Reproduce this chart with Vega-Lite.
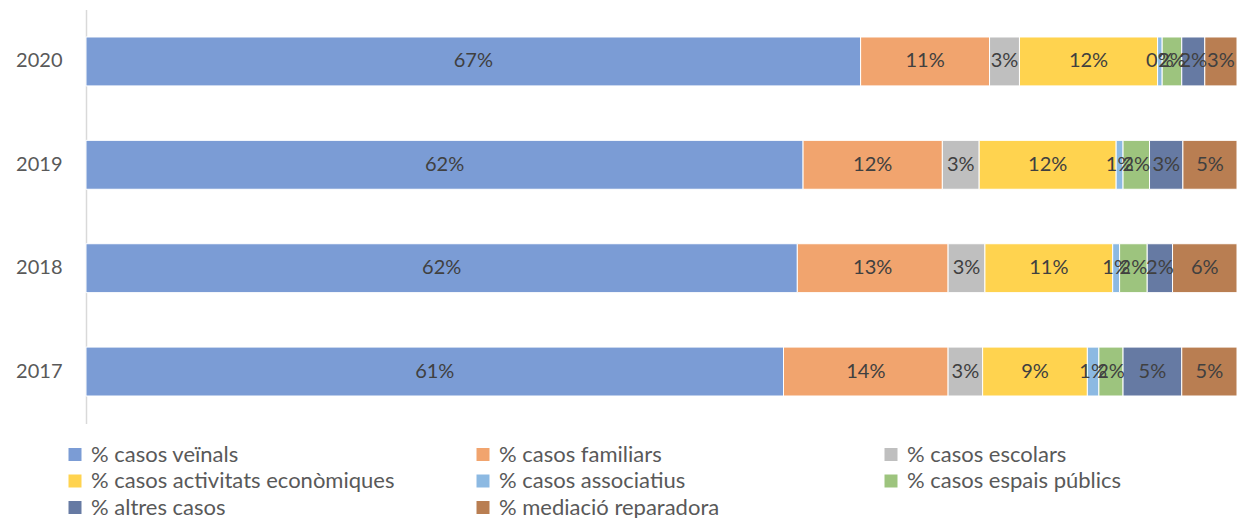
{
  "$schema": "https://vega.github.io/schema/vega-lite/v6.json",
  "width": 1151,
  "height": 414,
  "autosize": {"type": "none"},
  "padding": {"left": 86, "top": 9.5, "right": 11, "bottom": 94.5},
  "background": "white",
  "config": {
    "font": "Lato",
    "view": {"stroke": null}
  },
  "data": {
    "values": [
      {"year": "2020", "cat": "% casos veïnals", "ord": 1, "pct": 0.673},
      {"year": "2020", "cat": "% casos familiars", "ord": 2, "pct": 0.112},
      {"year": "2020", "cat": "% casos escolars", "ord": 3, "pct": 0.026},
      {"year": "2020", "cat": "% casos activitats econòmiques", "ord": 4, "pct": 0.120},
      {"year": "2020", "cat": "% casos associatius", "ord": 5, "pct": 0.004},
      {"year": "2020", "cat": "% casos espais públics", "ord": 6, "pct": 0.017},
      {"year": "2020", "cat": "% altres casos", "ord": 7, "pct": 0.020},
      {"year": "2020", "cat": "% mediació reparadora", "ord": 8, "pct": 0.028},
      {"year": "2019", "cat": "% casos veïnals", "ord": 1, "pct": 0.623},
      {"year": "2019", "cat": "% casos familiars", "ord": 2, "pct": 0.121},
      {"year": "2019", "cat": "% casos escolars", "ord": 3, "pct": 0.032},
      {"year": "2019", "cat": "% casos activitats econòmiques", "ord": 4, "pct": 0.119},
      {"year": "2019", "cat": "% casos associatius", "ord": 5, "pct": 0.006},
      {"year": "2019", "cat": "% casos espais públics", "ord": 6, "pct": 0.023},
      {"year": "2019", "cat": "% altres casos", "ord": 7, "pct": 0.029},
      {"year": "2019", "cat": "% mediació reparadora", "ord": 8, "pct": 0.047},
      {"year": "2018", "cat": "% casos veïnals", "ord": 1, "pct": 0.618},
      {"year": "2018", "cat": "% casos familiars", "ord": 2, "pct": 0.131},
      {"year": "2018", "cat": "% casos escolars", "ord": 3, "pct": 0.032},
      {"year": "2018", "cat": "% casos activitats econòmiques", "ord": 4, "pct": 0.111},
      {"year": "2018", "cat": "% casos associatius", "ord": 5, "pct": 0.006},
      {"year": "2018", "cat": "% casos espais públics", "ord": 6, "pct": 0.024},
      {"year": "2018", "cat": "% altres casos", "ord": 7, "pct": 0.022},
      {"year": "2018", "cat": "% mediació reparadora", "ord": 8, "pct": 0.056},
      {"year": "2017", "cat": "% casos veïnals", "ord": 1, "pct": 0.606},
      {"year": "2017", "cat": "% casos familiars", "ord": 2, "pct": 0.143},
      {"year": "2017", "cat": "% casos escolars", "ord": 3, "pct": 0.030},
      {"year": "2017", "cat": "% casos activitats econòmiques", "ord": 4, "pct": 0.091},
      {"year": "2017", "cat": "% casos associatius", "ord": 5, "pct": 0.010},
      {"year": "2017", "cat": "% casos espais públics", "ord": 6, "pct": 0.021},
      {"year": "2017", "cat": "% altres casos", "ord": 7, "pct": 0.051},
      {"year": "2017", "cat": "% mediació reparadora", "ord": 8, "pct": 0.048}
    ]
  },
  "transform": [
    {"stack": "pct", "groupby": ["year"], "sort": [{"field": "ord", "order": "ascending"}], "as": ["v0", "v1"]}
  ],
  "encoding": {
    "y": {
      "field": "year",
      "type": "nominal",
      "sort": ["2020", "2019", "2018", "2017"],
      "title": null,
      "scale": {"paddingInner": 0.527, "paddingOuter": 0.266},
      "axis": {
        "ticks": false,
        "domainColor": "#D9D9D9",
        "domainWidth": 1.5,
        "labelFont": "Lato",
        "labelFontSize": 20,
        "labelColor": "#595959",
        "labelPadding": 24
      }
    }
  },
  "layer": [
    {
      "mark": {"type": "bar", "stroke": "white", "strokeWidth": 1},
      "encoding": {
        "x": {"field": "v0", "type": "quantitative", "scale": {"domain": [0, 1], "nice": false}, "axis": null},
        "x2": {"field": "v1"},
        "color": {
          "field": "cat",
          "type": "nominal",
          "scale": {
            "domain": ["% casos veïnals", "% casos familiars", "% casos escolars", "% casos activitats econòmiques", "% casos associatius", "% casos espais públics", "% altres casos", "% mediació reparadora"],
            "range": ["#7B9CD5", "#F1A46E", "#BFBFBF", "#FFD34F", "#8CB9E2", "#9DC47E", "#667AA3", "#B97E52"]
          },
          "legend": {
            "title": null,
            "orient": "none",
            "legendX": -22,
            "legendY": 434,
            "direction": "horizontal",
            "columns": 3,
            "gridAlign": "all",
            "columnPadding": 77,
            "rowPadding": 4.5,
            "symbolType": "square",
            "symbolSize": 169,
            "symbolStrokeWidth": 0,
            "labelOffset": 5,
            "labelFont": "Lato",
            "labelFontSize": 22,
            "labelColor": "#595959",
            "labelLimit": 500,
            "padding": 0
          }
        },
        "order": {"field": "ord"}
      }
    },
    {
      "transform": [{"fold": ["v0", "v1"], "as": ["k", "pos"]}],
      "mark": {"type": "text", "font": "Lato", "fontSize": 20, "color": "#404040", "align": "center", "baseline": "middle"},
      "encoding": {
        "x": {"aggregate": "mean", "field": "pos", "type": "quantitative"},
        "detail": {"field": "cat"},
        "text": {"field": "pct", "type": "quantitative", "format": ".0%"}
      }
    }
  ]
}
